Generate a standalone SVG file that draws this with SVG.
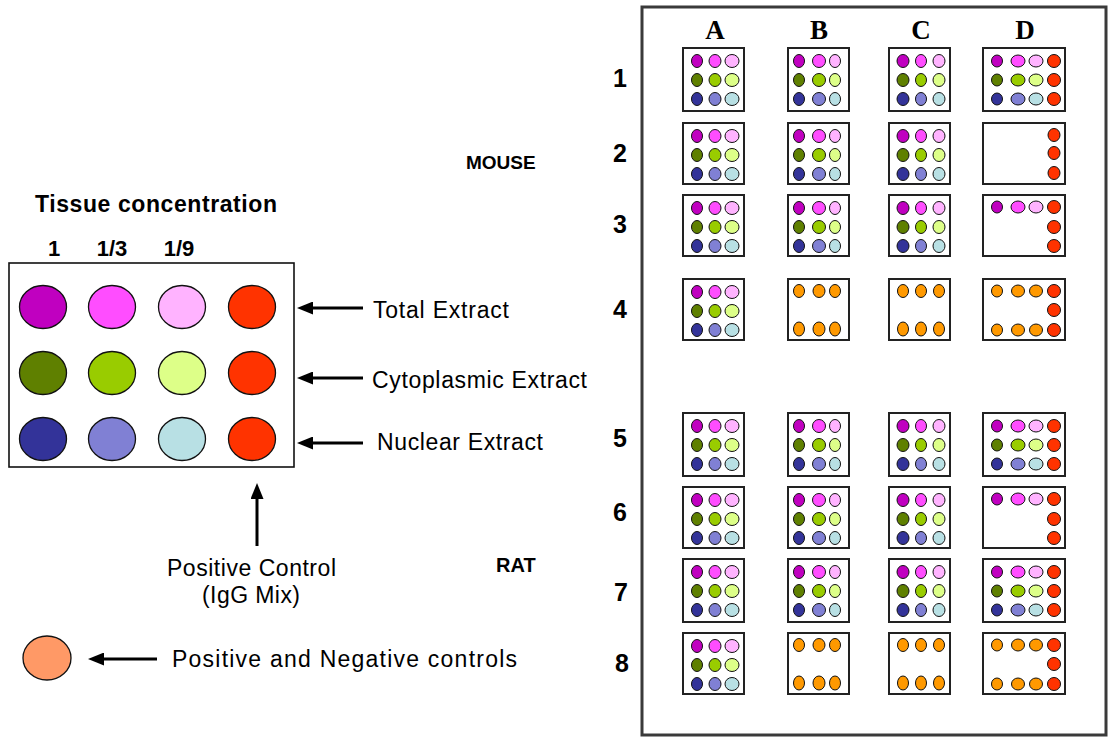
<svg xmlns="http://www.w3.org/2000/svg" width="1112" height="742" viewBox="0 0 1112 742">
<style>
  .sans{font-family:"Liberation Sans",Arial,sans-serif;fill:#000}
  .lbl{font-size:23px}
  .bold{font-weight:bold}
  .rown{font-family:"Liberation Sans",Arial,sans-serif;font-weight:bold;font-size:25px;text-anchor:middle}
  .col{font-family:"Liberation Serif","Times New Roman",serif;font-weight:bold;font-size:27px;text-anchor:middle}
  .cell{fill:#fff;stroke:#222;stroke-width:2}
  .dot ellipse{stroke:#111;stroke-width:1}
  .big{stroke:#111;stroke-width:1.3}
  .c11{fill:#C000C0}.c12{fill:#FF4DFF}.c13{fill:#FFB3FF}
  .c21{fill:#5F8000}.c22{fill:#99CC00}.c23{fill:#DDFF88}
  .c31{fill:#333399}.c32{fill:#8080D4}.c33{fill:#B8E0E4}
  .red{fill:#FF3300}.or{fill:#FF9900}.sal{fill:#FF9966}
  .arr{stroke:#000;stroke-width:3;fill:none}
</style>
<defs>
  <marker id="head" viewBox="0 0 16 13" markerUnits="userSpaceOnUse" markerWidth="16" markerHeight="13" refX="3" refY="6.5" orient="auto">
    <path d="M0,0 L16,6.5 L0,13 z" fill="#000"/>
  </marker>
  <g id="nineA" class="dot">
    <ellipse class="c11" cx="14" cy="13" rx="5.5" ry="6.5"/><ellipse class="c12" cx="32" cy="13" rx="6" ry="6.5"/><ellipse class="c13" cx="49" cy="13" rx="7" ry="6.5"/>
    <ellipse class="c21" cx="14" cy="32" rx="5.5" ry="6.5"/><ellipse class="c22" cx="32" cy="32" rx="6" ry="6.5"/><ellipse class="c23" cx="49" cy="32" rx="7" ry="6.5"/>
    <ellipse class="c31" cx="14" cy="51" rx="5.5" ry="6.5"/><ellipse class="c32" cx="32" cy="51" rx="6" ry="6.5"/><ellipse class="c33" cx="49" cy="51" rx="7" ry="6.5"/>
  </g>
  <g id="nineB" class="dot">
    <ellipse class="c11" cx="11" cy="13" rx="5.5" ry="6.5"/><ellipse class="c12" cx="31" cy="13" rx="6.5" ry="6.5"/><ellipse class="c13" cx="47" cy="13" rx="5.5" ry="6.5"/>
    <ellipse class="c21" cx="11" cy="32" rx="5.5" ry="6.5"/><ellipse class="c22" cx="31" cy="32" rx="6.5" ry="6.5"/><ellipse class="c23" cx="47" cy="32" rx="5.5" ry="6.5"/>
    <ellipse class="c31" cx="11" cy="51" rx="5.5" ry="6.5"/><ellipse class="c32" cx="31" cy="51" rx="6.5" ry="6.5"/><ellipse class="c33" cx="47" cy="51" rx="5.5" ry="6.5"/>
  </g>
  <g id="nineC" class="dot">
    <ellipse class="c11" cx="14" cy="13" rx="6" ry="6.5"/><ellipse class="c12" cx="32" cy="13" rx="5.5" ry="6.5"/><ellipse class="c13" cx="50" cy="13" rx="6" ry="6.5"/>
    <ellipse class="c21" cx="14" cy="32" rx="6" ry="6.5"/><ellipse class="c22" cx="32" cy="32" rx="5.5" ry="6.5"/><ellipse class="c23" cx="50" cy="32" rx="6" ry="6.5"/>
    <ellipse class="c31" cx="14" cy="51" rx="6" ry="6.5"/><ellipse class="c32" cx="32" cy="51" rx="5.5" ry="6.5"/><ellipse class="c33" cx="50" cy="51" rx="6" ry="6.5"/>
  </g>
  <g id="dFull" class="dot">
    <ellipse class="c11" cx="14" cy="13" rx="5.5" ry="6"/><ellipse class="c12" cx="35" cy="13" rx="7" ry="6"/><ellipse class="c13" cx="53" cy="13" rx="7" ry="6"/><ellipse class="red" cx="71" cy="13" rx="6.5" ry="6.5"/>
    <ellipse class="c21" cx="14" cy="32" rx="5.5" ry="6"/><ellipse class="c22" cx="35" cy="32" rx="7" ry="6"/><ellipse class="c23" cx="53" cy="32" rx="7" ry="6"/><ellipse class="red" cx="71" cy="32" rx="6.5" ry="6.5"/>
    <ellipse class="c31" cx="14" cy="51" rx="5.5" ry="6"/><ellipse class="c32" cx="35" cy="51" rx="7" ry="6"/><ellipse class="c33" cx="53" cy="51" rx="7" ry="6"/><ellipse class="red" cx="71" cy="51" rx="6.5" ry="6.5"/>
  </g>
  <g id="dRed" class="dot">
    <ellipse class="red" cx="71" cy="12" rx="6" ry="6.5"/><ellipse class="red" cx="71" cy="30" rx="6" ry="6.5"/><ellipse class="red" cx="71" cy="50" rx="6" ry="6.5"/>
  </g>
  <g id="dTop" class="dot">
    <ellipse class="c11" cx="14" cy="12" rx="5.5" ry="6"/><ellipse class="c12" cx="35" cy="12" rx="7" ry="6"/><ellipse class="c13" cx="53" cy="12" rx="7" ry="6"/><ellipse class="red" cx="71" cy="12" rx="6.5" ry="6.5"/>
    <ellipse class="red" cx="71" cy="32" rx="6.5" ry="6.5"/><ellipse class="red" cx="71" cy="51" rx="6.5" ry="6.5"/>
  </g>
  <g id="oB" class="dot">
    <ellipse class="or" cx="11" cy="12" rx="5.5" ry="6.5"/><ellipse class="or" cx="31" cy="12" rx="6" ry="6.5"/><ellipse class="or" cx="47" cy="12" rx="5.5" ry="6.5"/>
    <ellipse class="or" cx="11" cy="50" rx="5.5" ry="7"/><ellipse class="or" cx="31" cy="50" rx="6" ry="7"/><ellipse class="or" cx="47" cy="50" rx="5.5" ry="7"/>
  </g>
  <g id="oC" class="dot">
    <ellipse class="or" cx="14" cy="12" rx="5.5" ry="6.5"/><ellipse class="or" cx="32" cy="12" rx="5.5" ry="6.5"/><ellipse class="or" cx="50" cy="12" rx="5.5" ry="6.5"/>
    <ellipse class="or" cx="14" cy="50" rx="5.5" ry="7"/><ellipse class="or" cx="32" cy="50" rx="5.5" ry="7"/><ellipse class="or" cx="50" cy="50" rx="5.5" ry="7"/>
  </g>
  <g id="dOr" class="dot">
    <ellipse class="or" cx="14" cy="12" rx="5.5" ry="6"/><ellipse class="or" cx="35" cy="12" rx="6.5" ry="6"/><ellipse class="or" cx="53" cy="12" rx="6.5" ry="6"/><ellipse class="red" cx="71" cy="12" rx="6.5" ry="6.5"/>
    <ellipse class="red" cx="71" cy="31" rx="6.5" ry="6.5"/>
    <ellipse class="or" cx="14" cy="51" rx="5.5" ry="6"/><ellipse class="or" cx="35" cy="51" rx="6.5" ry="6"/><ellipse class="or" cx="53" cy="51" rx="6.5" ry="6"/><ellipse class="red" cx="71" cy="51" rx="6.5" ry="6.5"/>
  </g>
</defs>
<rect width="1112" height="742" fill="#fff"/>

<g id="legend-title">
  <text class="sans bold" x="35" y="212" font-size="23" textLength="242">Tissue concentration</text>
  <text class="sans bold" x="54" y="256" font-size="22" text-anchor="middle">1</text>
  <text class="sans bold" x="112" y="256" font-size="22" text-anchor="middle">1/3</text>
  <text class="sans bold" x="179" y="256" font-size="22" text-anchor="middle">1/9</text>
</g>
<g id="legend-plate">
  <rect x="9" y="263" width="285" height="204" fill="#fff" stroke="#111" stroke-width="1.6"/>
  <ellipse class="big c11" cx="43" cy="307" rx="23.5" ry="21.5"/>
  <ellipse class="big c12" cx="112" cy="307" rx="23.5" ry="21.5"/>
  <ellipse class="big c13" cx="182" cy="307" rx="23.5" ry="21.5"/>
  <ellipse class="big red" cx="252" cy="307" rx="23.5" ry="21.5"/>
  <ellipse class="big c21" cx="43" cy="373" rx="23.5" ry="21.5"/>
  <ellipse class="big c22" cx="112" cy="373" rx="23.5" ry="21.5"/>
  <ellipse class="big c23" cx="182" cy="373" rx="23.5" ry="21.5"/>
  <ellipse class="big red" cx="252" cy="373" rx="23.5" ry="21.5"/>
  <ellipse class="big c31" cx="43" cy="439" rx="23.5" ry="21.5"/>
  <ellipse class="big c32" cx="112" cy="439" rx="23.5" ry="21.5"/>
  <ellipse class="big c33" cx="182" cy="439" rx="23.5" ry="21.5"/>
  <ellipse class="big red" cx="252" cy="439" rx="23.5" ry="21.5"/>
</g>
<g id="label-total"><text class="sans lbl" x="373" y="318" textLength="136">Total Extract</text></g>
<g id="label-cyto"><text class="sans lbl" x="372" y="388" textLength="215">Cytoplasmic Extract</text></g>
<g id="label-nuclear"><text class="sans lbl" x="377" y="450" textLength="166">Nuclear Extract</text></g>
<g id="label-posctrl">
  <text class="sans lbl" x="167" y="576" textLength="169">Positive Control</text>
  <text class="sans lbl" x="202" y="603" textLength="98">(IgG Mix)</text>
</g>
<g id="legend-controls">
  <ellipse class="big sal" cx="47" cy="658" rx="24" ry="22"/>
  <text class="sans lbl" x="172" y="667" textLength="345">Positive and Negative controls</text>
</g>

<g id="connectors">
  <path class="arr" d="M363,308 H310" marker-end="url(#head)"/>
  <path class="arr" d="M363,378 H310" marker-end="url(#head)"/>
  <path class="arr" d="M363,443 H310" marker-end="url(#head)"/>
  <path class="arr" d="M257,546 V496" marker-end="url(#head)"/>
  <path class="arr" d="M157,659 H101" marker-end="url(#head)"/>
</g>

<g id="panel">
  <rect x="642" y="7" width="464" height="728" fill="none" stroke="#3a3a3a" stroke-width="3"/>
  <text class="col" x="715" y="39">A</text>
  <text class="col" x="819" y="39">B</text>
  <text class="col" x="921" y="39">C</text>
  <text class="col" x="1025" y="39">D</text>
  <text class="rown" x="620" y="87">1</text>
  <text class="rown" x="620" y="162">2</text>
  <text class="rown" x="620" y="233">3</text>
  <text class="rown" x="620" y="318">4</text>
  <text class="rown" x="620" y="447">5</text>
  <text class="rown" x="620" y="521">6</text>
  <text class="rown" x="621" y="601">7</text>
  <text class="rown" x="622" y="672">8</text>
  <text class="sans bold" x="466" y="169" font-size="19">MOUSE</text>
  <text class="sans bold" x="496" y="572" font-size="20">RAT</text>
</g>

<g id="row1">
  <g id="A1" transform="translate(683,48)"><rect class="cell" width="61" height="63"/><use href="#nineA"/></g>
  <g id="B1" transform="translate(788,48)"><rect class="cell" width="61" height="63"/><use href="#nineB"/></g>
  <g id="C1" transform="translate(889,48)"><rect class="cell" width="61" height="63"/><use href="#nineC"/></g>
  <g id="D1" transform="translate(983,48)"><rect class="cell" width="82" height="63"/><use href="#dFull"/></g>
</g>
<g id="row2">
  <g id="A2" transform="translate(683,123)"><rect class="cell" width="61" height="61"/><use href="#nineA"/></g>
  <g id="B2" transform="translate(788,123)"><rect class="cell" width="61" height="61"/><use href="#nineB"/></g>
  <g id="C2" transform="translate(889,123)"><rect class="cell" width="61" height="61"/><use href="#nineC"/></g>
  <g id="D2" transform="translate(983,123)"><rect class="cell" width="82" height="61"/><use href="#dRed"/></g>
</g>
<g id="row3">
  <g id="A3" transform="translate(683,195)"><rect class="cell" width="61" height="61"/><use href="#nineA"/></g>
  <g id="B3" transform="translate(788,195)"><rect class="cell" width="61" height="61"/><use href="#nineB"/></g>
  <g id="C3" transform="translate(889,195)"><rect class="cell" width="61" height="61"/><use href="#nineC"/></g>
  <g id="D3" transform="translate(983,195)"><rect class="cell" width="82" height="61"/><use href="#dTop"/></g>
</g>
<g id="row4">
  <g id="A4" transform="translate(683,279)"><rect class="cell" width="61" height="61"/><use href="#nineA"/></g>
  <g id="B4" transform="translate(788,279)"><rect class="cell" width="61" height="61"/><use href="#oB"/></g>
  <g id="C4" transform="translate(889,279)"><rect class="cell" width="61" height="61"/><use href="#oC"/></g>
  <g id="D4" transform="translate(983,279)"><rect class="cell" width="82" height="61"/><use href="#dOr"/></g>
</g>
<g id="row5">
  <g id="A5" transform="translate(683,413)"><rect class="cell" width="61" height="63"/><use href="#nineA"/></g>
  <g id="B5" transform="translate(788,413)"><rect class="cell" width="61" height="63"/><use href="#nineB"/></g>
  <g id="C5" transform="translate(889,413)"><rect class="cell" width="61" height="63"/><use href="#nineC"/></g>
  <g id="D5" transform="translate(983,413)"><rect class="cell" width="82" height="63"/><use href="#dFull"/></g>
</g>
<g id="row6">
  <g id="A6" transform="translate(683,487)"><rect class="cell" width="61" height="61"/><use href="#nineA"/></g>
  <g id="B6" transform="translate(788,487)"><rect class="cell" width="61" height="61"/><use href="#nineB"/></g>
  <g id="C6" transform="translate(889,487)"><rect class="cell" width="61" height="61"/><use href="#nineC"/></g>
  <g id="D6" transform="translate(983,487)"><rect class="cell" width="82" height="61"/><use href="#dTop"/></g>
</g>
<g id="row7">
  <g id="A7" transform="translate(683,559)"><rect class="cell" width="61" height="63"/><use href="#nineA"/></g>
  <g id="B7" transform="translate(788,559)"><rect class="cell" width="61" height="63"/><use href="#nineB"/></g>
  <g id="C7" transform="translate(889,559)"><rect class="cell" width="61" height="63"/><use href="#nineC"/></g>
  <g id="D7" transform="translate(983,559)"><rect class="cell" width="82" height="63"/><use href="#dFull"/></g>
</g>
<g id="row8">
  <g id="A8" transform="translate(683,633)"><rect class="cell" width="61" height="61"/><use href="#nineA"/></g>
  <g id="B8" transform="translate(788,633)"><rect class="cell" width="61" height="61"/><use href="#oB"/></g>
  <g id="C8" transform="translate(889,633)"><rect class="cell" width="61" height="61"/><use href="#oC"/></g>
  <g id="D8" transform="translate(983,633)"><rect class="cell" width="82" height="61"/><use href="#dOr"/></g>
</g>
</svg>
